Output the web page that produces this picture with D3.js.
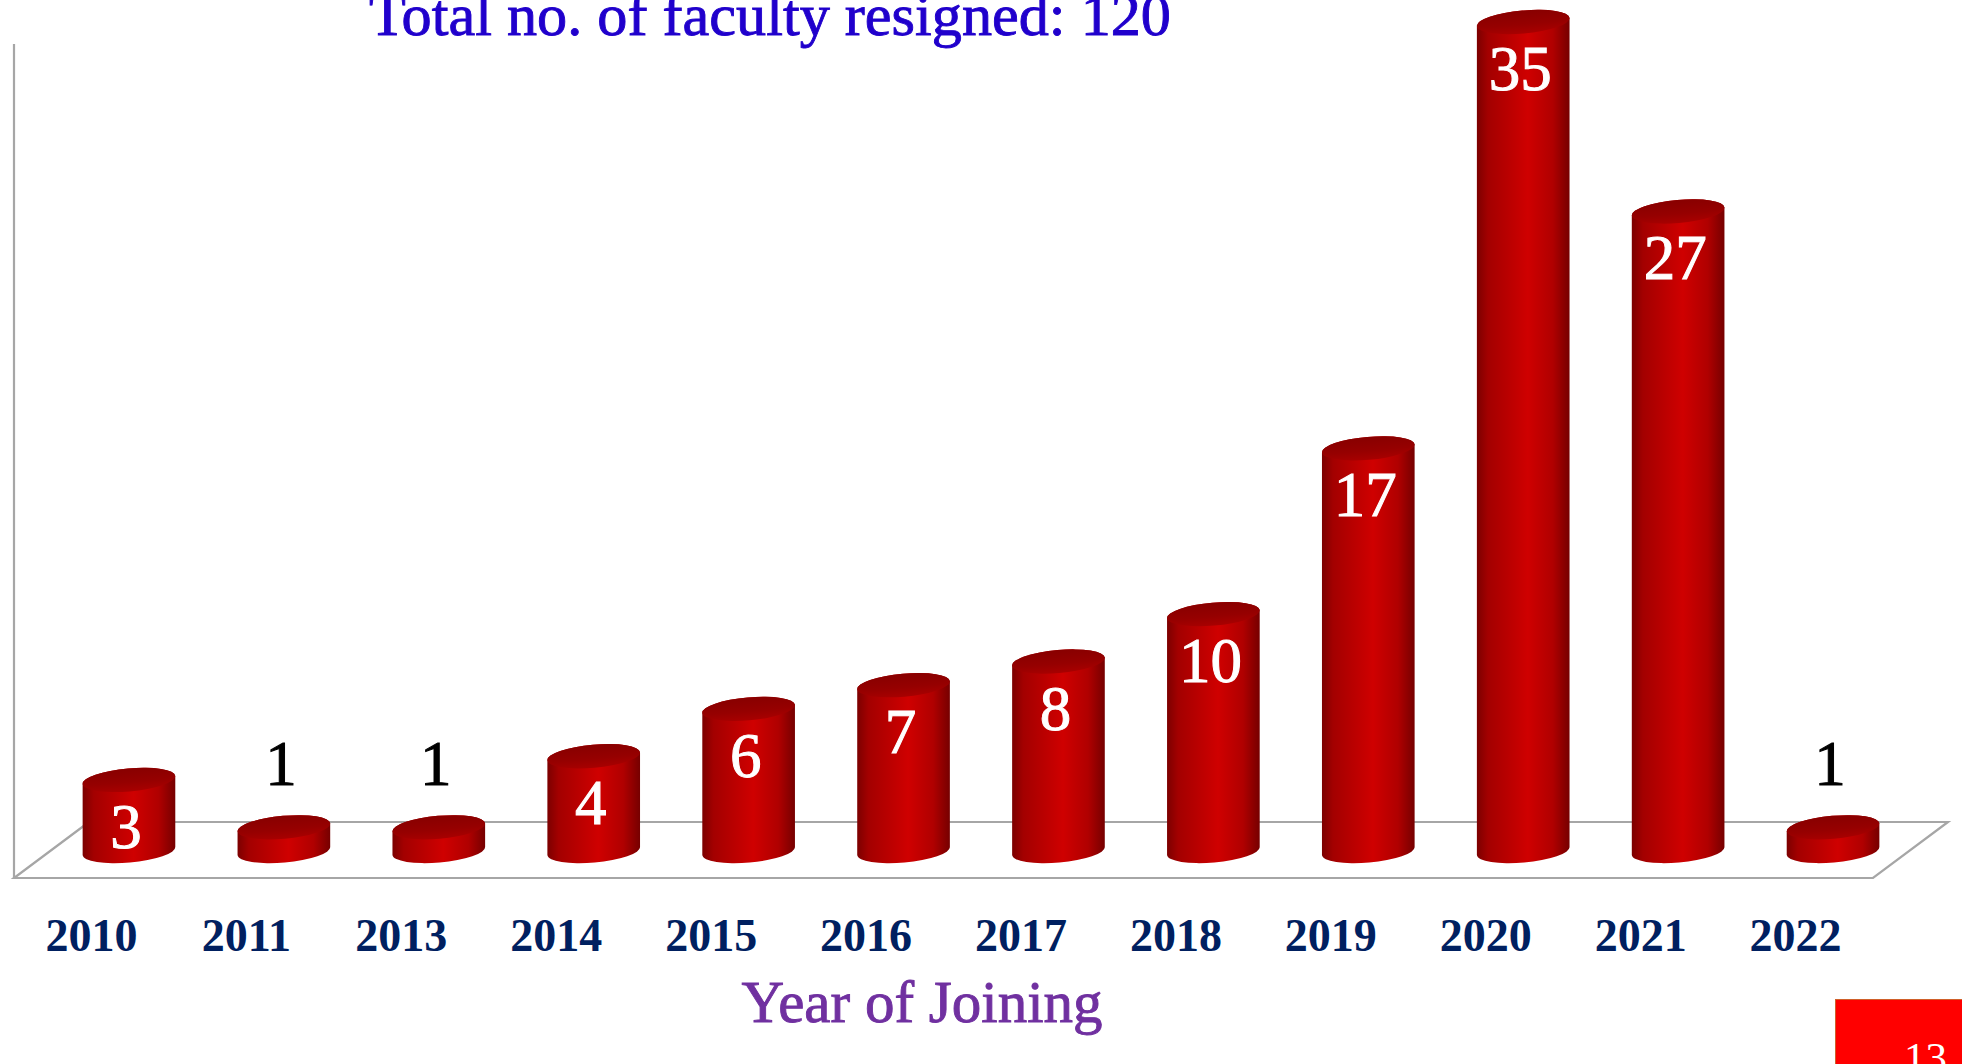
<!DOCTYPE html>
<html>
<head>
<meta charset="utf-8">
<script src="https://cdn.jsdelivr.net/npm/d3@7"></script>
<style>
    html, body { margin: 0; padding: 0; background: #fff; overflow: hidden; }
    #viz { width: 1962px; height: 1064px; }
    text { font-family: "Liberation Serif", "Times New Roman", serif; }
</style>
</head>
<body>
<div id="viz"></div>
<script>
const years = ['2010', '2011', '2013', '2014', '2015', '2016', '2017', '2018', '2019', '2020', '2021', '2022'];
const resigned = [3, 1, 1, 4, 6, 7, 8, 10, 17, 35, 27, 1];
const titleText = 'Total no. of faculty resigned: 120';
const axisTitle = 'Year of Joining';
const slideNumber = '13';

const width = 1962,
    height = 1064;

// floor / depth of the 3d box
const floor = { left: 14, right: 1873, front: 878 },
    depth = { x: 75, y: -56 },
    cyl = { rx: 46.5, ry: 11.5, tilt: -5 };

let svg, x, y;

function establishContainer() {
    svg = d3.select('#viz').append('svg')
        .attr('width', width)
        .attr('height', height);

    const defs = svg.append('defs');

    const side = defs.append('linearGradient')
        .attr('id', 'cylSide')
        .attr('x1', 0).attr('x2', 1).attr('y1', 0).attr('y2', 0);
    [[0, '#7c0000'], [0.12, '#a30000'], [0.55, '#cf0000'], [0.82, '#b00000'], [1, '#760000']]
        .forEach(s => side.append('stop').attr('offset', s[0]).attr('stop-color', s[1]));

    const cap = defs.append('linearGradient')
        .attr('id', 'cylCap')
        .attr('x1', 0).attr('x2', 0).attr('y1', 0).attr('y2', 1);
    [[0, '#880000'], [0.6, '#960000'], [1, '#a80000']]
        .forEach(s => cap.append('stop').attr('offset', s[0]).attr('stop-color', s[1]));
}

function setScales() {
    x = d3.scaleBand()
        .domain(years)
        .range([floor.left, floor.right])
        .padding(0);

    // centre of cylinder cap, measured at mid depth of the floor
    y = d3.scaleLinear()
        .domain([0, 35])
        .range([851, 22]);
}

function drawFloor() {
    const g = svg.append('g')
        .attr('fill', 'none')
        .attr('stroke', '#a6a6a6')
        .attr('stroke-width', 2.2);

    const fl = [floor.left, floor.front],
        fr = [floor.right, floor.front],
        br = [floor.right + depth.x, floor.front + depth.y],
        bl = [floor.left + depth.x, floor.front + depth.y];

    g.append('path').attr('d', d3.line()([bl, br, fr, fl, bl]));

    // side wall edge
    g.append('line')
        .attr('x1', floor.left).attr('x2', floor.left)
        .attr('y1', 44).attr('y2', floor.front);
}

function cylinderFactory(container, cx, topY, bottomY) {
    const a = cyl.tilt * Math.PI / 180,
        dx = cyl.rx * Math.cos(a),
        dy = cyl.rx * Math.sin(a);

    const side = `M${cx - dx},${topY - dy}` +
        `L${cx - dx},${bottomY - dy}` +
        `A${cyl.rx},${cyl.ry} ${cyl.tilt} 0 0 ${cx + dx},${bottomY + dy}` +
        `L${cx + dx},${topY + dy}` +
        `A${cyl.rx},${cyl.ry} ${cyl.tilt} 0 0 ${cx - dx},${topY - dy}Z`;

    container.append('path')
        .attr('d', side)
        .style('fill', 'url(#cylSide)');

    container.append('ellipse')
        .attr('cx', cx)
        .attr('cy', topY)
        .attr('rx', cyl.rx)
        .attr('ry', cyl.ry)
        .attr('transform', `rotate(${cyl.tilt},${cx},${topY})`)
        .style('fill', 'url(#cylCap)');
}

function barCentre(year) {
    return x(year) + x.bandwidth() / 2 + depth.x / 2;
}

function drawBars() {
    const bars = svg.append('g');

    years.forEach((yr, i) => {
        cylinderFactory(bars, barCentre(yr), y(resigned[i]), y(0));
    });

    const labels = svg.append('g')
        .attr('text-anchor', 'middle')
        .style('font-size', '63px')
        .style('stroke-width', 1);

    labels.selectAll('text')
        .data(years)
        .join('text')
        .attr('x', d => barCentre(d) - 3)
        .attr('y', (d, i) => resigned[i] > 1 ? y(resigned[i]) + 68 : y(resigned[i]) - 42)
        .style('fill', (d, i) => resigned[i] > 1 ? '#ffffff' : '#000000')
        .style('stroke', (d, i) => resigned[i] > 1 ? '#ffffff' : '#000000')
        .text((d, i) => resigned[i]);
}

function drawAxis() {
    svg.append('g')
        .attr('text-anchor', 'middle')
        .style('font-size', '46px')
        .style('font-weight', 'bold')
        .style('fill', '#002060')
        .selectAll('text')
        .data(years)
        .join('text')
        .attr('x', d => x(d) + x.bandwidth() / 2)
        .attr('y', 951)
        .text(d => d);

    svg.append('text')
        .attr('x', 922)
        .attr('y', 1022)
        .attr('text-anchor', 'middle')
        .style('font-size', '59px')
        .style('fill', '#7030a0')
        .style('stroke', '#7030a0')
        .style('stroke-width', 0.9)
        .text(axisTitle);

    svg.append('text')
        .attr('x', 369)
        .attr('y', 35)
        .attr('textLength', 802)
        .attr('lengthAdjust', 'spacingAndGlyphs')
        .style('font-size', '60px')
        .style('fill', '#2000cc')
        .style('stroke', '#2000cc')
        .style('stroke-width', 0.9)
        .text(titleText);
}

function drawSlideNumber() {
    svg.append('rect')
        .attr('x', 1835.5)
        .attr('y', 999.5)
        .attr('width', 140)
        .attr('height', 80)
        .style('fill', '#ff0000')
        .style('stroke', '#d0602a')
        .style('stroke-width', 1);

    svg.append('text')
        .attr('x', 1904)
        .attr('y', 1072)
        .style('font-size', '43px')
        .style('fill', '#ffffff')
        .text(slideNumber);
}

establishContainer();
setScales();
drawFloor();
drawBars();
drawAxis();
drawSlideNumber();
</script>
</body>
</html>
